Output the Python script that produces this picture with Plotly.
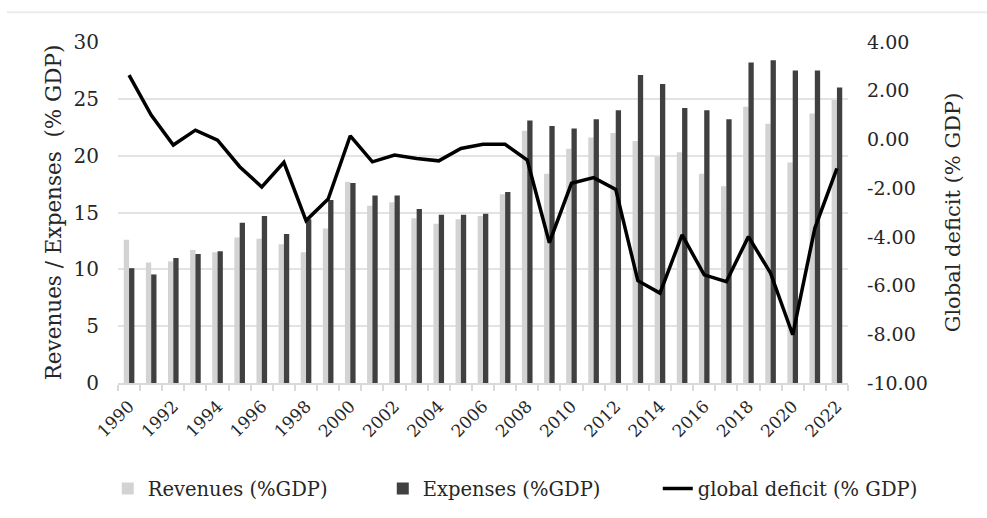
import plotly.graph_objects as go

years = list(range(1990, 2023))
revenues = [12.6, 10.6, 10.7, 11.7, 11.5, 12.8, 12.7, 12.2, 11.5, 13.6,
            17.7, 15.6, 15.9, 14.5, 14.0, 14.4, 14.7, 16.6, 22.2, 18.4,
            20.6, 21.6, 22.0, 21.3, 19.9, 20.3, 18.4, 17.3, 24.3, 22.8,
            19.4, 23.7, 24.9]
expenses = [10.1, 9.55, 11.0, 11.35, 11.6, 14.1, 14.7, 13.1, 14.4, 16.1,
            17.6, 16.5, 16.5, 15.3, 14.8, 14.8, 14.9, 16.8, 23.1, 22.6,
            22.4, 23.2, 24.0, 27.1, 26.3, 24.2, 24.0, 23.2, 28.2, 28.4,
            27.5, 27.5, 26.0]
deficit = [2.64, 1.0, -0.23, 0.38, -0.03, -1.12, -1.95, -0.94, -3.33, -2.45,
           0.15, -0.92, -0.64, -0.78, -0.88, -0.37, -0.2, -0.2, -0.85, -4.24,
           -1.8, -1.57, -2.05, -5.8, -6.31, -3.92, -5.56, -5.84, -3.99, -5.49,
           -8.02, -3.65, -1.19]

left_ticks = [0, 5, 10, 15, 20, 25, 30]
right_ticks = [-10, -8, -6, -4, -2, 0, 2, 4]
year_labels = list(range(1990, 2023, 2))

FONT = "DejaVu Serif"
TXT = "#262626"

fig = go.Figure()
fig.add_trace(go.Bar(x=years, y=revenues, name="Revenues (%GDP)",
                     marker=dict(color="#d3d3d3", line=dict(width=0))))
fig.add_trace(go.Bar(x=years, y=expenses, name="Expenses (%GDP)",
                     marker=dict(color="#404040", line=dict(width=0))))
fig.add_trace(go.Scatter(x=years, y=deficit, name="global deficit (% GDP)",
                         mode="lines", yaxis="y2",
                         line=dict(color="#000000", width=3.5)))

fig.update_layout(
    width=987, height=518,
    margin=dict(l=118, r=139, t=42, b=135, autoexpand=False),
    paper_bgcolor="white", plot_bgcolor="white",
    font=dict(family=FONT, color=TXT, size=18),
    barmode="group", bargap=0.52, bargroupgap=0.0,
    showlegend=True,
    legend=dict(orientation="h", x=-0.014, xanchor="left",
                y=-0.31, yanchor="middle",
                font=dict(family=FONT, size=19.5, color=TXT),
                entrywidth=230, traceorder="normal"),
    xaxis=dict(
        range=[1989.5, 2022.5],
        tickmode="array", tickvals=year_labels,
        ticktext=[str(y) for y in year_labels],
        tickangle=-45, ticks="", showgrid=False,
        tickfont=dict(family=FONT, size=17, color=TXT),
        showline=True, linecolor="#d9d9d9", linewidth=1.5,
        minor=dict(ticks="outside", tickmode="array",
                   tickvals=[y - 0.5 for y in years + [2023]],
                   ticklen=6, tickcolor="#d9d9d9", tickwidth=1.5),
        ticklabelstandoff=5,
    ),
    yaxis=dict(
        range=[0, 30], tickmode="array", tickvals=left_ticks,
        showgrid=True, gridcolor="#e3e3e3", gridwidth=1.5, zeroline=False,
        tickfont=dict(family=FONT, size=20, color=TXT),
        ticklabelstandoff=18,
        title=dict(text="Revenues / Expenses  (% GDP)",
                   font=dict(family=FONT, size=21.5, color=TXT), standoff=6),
    ),
    yaxis2=dict(
        range=[-10, 4], overlaying="y", side="right",
        tickmode="array", tickvals=right_ticks,
        ticktext=[f"{v:.2f}" for v in right_ticks],
        showgrid=False, zeroline=False,
        tickfont=dict(family=FONT, size=19, color=TXT),
        ticklabelstandoff=18,
        title=dict(text="Global deficit (% GDP)",
                   font=dict(family=FONT, size=21, color=TXT), standoff=18),
    ),
    shapes=[dict(type="line", xref="paper", yref="paper",
                 x0=-0.152, x1=1.19, y0=1.087, y1=1.087,
                 line=dict(color="#ebebeb", width=2))],
)

fig.write_html("out.html")
